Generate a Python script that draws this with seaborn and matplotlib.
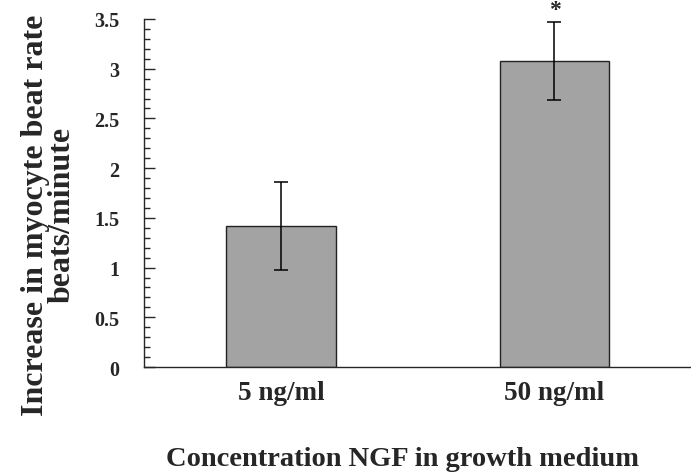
import matplotlib
matplotlib.use('Agg')
import matplotlib.pyplot as plt
import seaborn as sns
from matplotlib.ticker import MultipleLocator

# values
concentrations = ['5 ng/ml', '50 ng/ml']
beat_increase = [1.42, 3.08]
beat_err = [0.44, 0.39]
signif = ['', '*']

sns.set_style('ticks')
plt.rcParams['font.family'] = ['Liberation Serif', 'DejaVu Serif']
plt.rcParams['font.weight'] = 'bold'

fig = plt.figure(figsize=(6.91, 4.77), dpi=100)
ax = fig.add_axes([0.2084, 0.2285, 0.80, 0.7296])

sns.barplot(x=concentrations, y=beat_increase, color='#a3a3a3', saturation=1,
            width=0.4, edgecolor='#222222', linewidth=1.0, ax=ax)
ax.errorbar(concentrations, beat_increase, yerr=beat_err, fmt='none',
            ecolor='black', elinewidth=1.1, capsize=4.7, capthick=1.1)
for i, s in enumerate(signif):
    if s:
        ax.text(i, beat_increase[i] + beat_err[i] + 0.02, s, ha='center',
                va='bottom', fontsize=17, fontweight='bold')

ax.set_ylim(0, 3.5)
ax.set_xlim(-0.5, 1.52)
ax.yaxis.set_major_locator(MultipleLocator(0.5))
ax.yaxis.set_minor_locator(MultipleLocator(0.1))
ax.set_yticks([0, 0.5, 1, 1.5, 2, 2.5, 3, 3.5])
ax.set_yticklabels(['0', '0.5', '1', '1.5', '2', '2.5', '3', '3.5'])
ax.tick_params(axis='y', which='major', direction='in', length=8, width=1,
               pad=18, labelsize=14.5)
ax.tick_params(axis='y', which='minor', direction='in', length=4, width=1)
ax.tick_params(axis='x', length=0, pad=9, labelsize=19.5)
for lab in ax.get_xticklabels() + ax.get_yticklabels():
    lab.set_fontweight('bold')

sns.despine(ax=ax)
ax.spines['left'].set_linewidth(1)
ax.spines['bottom'].set_linewidth(1)

ax.set_ylabel('Increase in myocyte beat rate\nbeats/minute', fontsize=23,
              fontweight='bold', linespacing=0.9)
ax.yaxis.set_label_coords(-0.172, 0.44)
ax.yaxis.label.set_va('center')
ax.set_xlabel('Concentration NGF in growth medium', fontsize=20.5,
              fontweight='bold')
ax.xaxis.set_label_coords(0.468, -0.264)
ax.xaxis.label.set_va('center')

fig.savefig('out.png', dpi=100)
plt.close(fig)
